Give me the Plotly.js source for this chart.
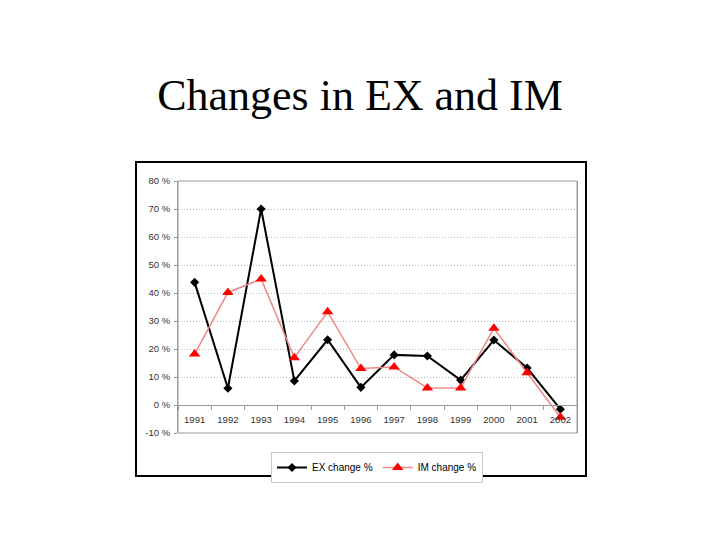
<!DOCTYPE html>
<html>
<head>
<meta charset="utf-8">
<script src="https://cdn.plot.ly/plotly-3.0.1.min.js"></script>
<style>html,body{margin:0;padding:0;background:#fff;}#chart{width:720px;height:540px;}</style>
</head>
<body>
<div id="chart"></div>
<script>
const years = ["1991","1992","1993","1994","1995","1996","1997","1998","1999","2000","2001","2002"];
const exChange = [43.8, 6.0, 70.0, 8.6, 23.3, 6.3, 17.9, 17.5, 8.9, 23.2, 13.2, -1.5];
const imChange = [18.2, 40.2, 45.0, 16.9, 33.3, 13.0, 13.6, 6.1, 6.1, 27.4, 11.5, -4.4];
const yTickVals = [-10, 0, 10, 20, 30, 40, 50, 60, 70, 80];
const yTickText = ["-10 %", "0 %", "10 %", "20 %", "30 %", "40 %", "50 %", "60 %", "70 %", "80 %"];
const seriesNames = ["EX change %", "IM change %"];
const titleText = "Changes in EX and IM";

// plot area in pixels
const L = 178, R = 577, T = 181, B = 433;
const W = 720, H = 540;
const px = x => (x - L) / (R - L);
const py = y => (B - y) / (B - T);
const yMin = -10, yMax = 80;

const traces = [
  {
    x: years, y: exChange, name: seriesNames[0], type: "scatter", mode: "lines+markers",
    line: {color: "#000000", width: 2},
    marker: {symbol: "diamond", color: "#000000", size: 7}
  },
  {
    x: years, y: imChange, name: seriesNames[1], type: "scatter", mode: "lines+markers",
    line: {color: "#ee8888", width: 1.5},
    marker: {symbol: "triangle-up", color: "#ff0000", size: 10}
  }
];

const layout = {
  width: W, height: H,
  paper_bgcolor: "#ffffff", plot_bgcolor: "#ffffff",
  margin: {l: L, r: W - R, t: T, b: H - B, pad: 0},
  title: {
    text: titleText,
    font: {family: "Liberation Serif, Times New Roman, serif", size: 44, color: "#000"},
    x: 0.5, xref: "container", xanchor: "center",
    y: 1 - 95 / H, yref: "container", yanchor: "middle"
  },
  showlegend: true,
  legend: {
    orientation: "h",
    x: px(377), xanchor: "center",
    y: py(452), yanchor: "top",
    bordercolor: "#c8c8c8", borderwidth: 1,
    font: {family: "Liberation Sans, Arial, sans-serif", size: 10, color: "#000"},
    itemwidth: 30, tracegroupgap: 0
  },
  xaxis: {
    type: "category",
    range: [-0.5, years.length - 0.5],
    anchor: "free",
    position: (0 - yMin) / (yMax - yMin),
    showline: true, linecolor: "#9a9a9a", linewidth: 1,
    showgrid: false, zeroline: false,
    ticks: "outside", ticklen: 4, tickcolor: "#9a9a9a",
    tickson: "boundaries",
    ticklabelstandoff: 6,
    tickfont: {family: "Liberation Sans, Arial, sans-serif", size: 9.5, color: "#333"},
    fixedrange: true
  },
  yaxis: {
    range: [yMin, yMax],
    tickvals: yTickVals, ticktext: yTickText,
    showline: true, linecolor: "#9a9a9a", linewidth: 1, mirror: true,
    showgrid: true, gridcolor: "#b8b8b8", griddash: "1px,2px", gridwidth: 1,
    zeroline: false,
    ticks: "outside", ticklen: 3, tickcolor: "#9a9a9a",
    ticklabelstandoff: 2,
    tickfont: {family: "Liberation Sans, Arial, sans-serif", size: 9.5, color: "#333"},
    fixedrange: true
  },
  shapes: [
    {type: "rect", xref: "paper", yref: "paper", x0: 0, x1: 1, y0: 0, y1: 1,
     line: {color: "#9a9a9a", width: 1}, layer: "above"},
    {type: "rect", xref: "paper", yref: "paper",
     x0: px(136), x1: px(586), y0: py(476), y1: py(162),
     line: {color: "#000000", width: 2}, layer: "below"}
  ]
};

Plotly.newPlot("chart", traces, layout, {displayModeBar: false, staticPlot: true});
</script>
</body>
</html>
